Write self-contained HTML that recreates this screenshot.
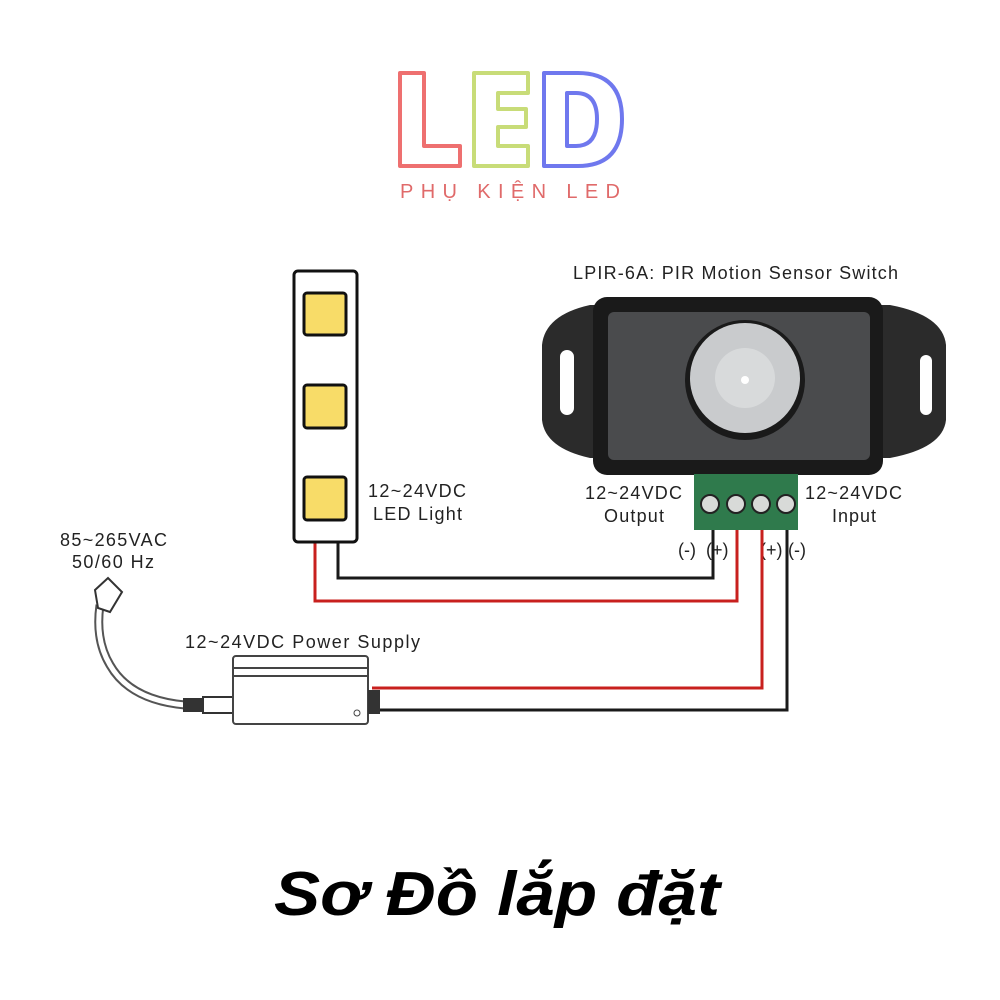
<!DOCTYPE html>
<html><head><meta charset="utf-8"><style>
body{margin:0;background:#fff;}
svg{display:block}
</style></head><body>
<svg width="1000" height="1000" viewBox="0 0 1000 1000" xmlns="http://www.w3.org/2000/svg">
<rect width="1000" height="1000" fill="#fff"/>
<!-- Logo -->
<g fill="none" stroke-width="4" stroke-linejoin="round">
<path d="M400 73 H424 V146 H460 V166 H400 Z" stroke="#ee7070"/>
<path d="M474 73 H528 V93 H498 V109 H526 V127 H498 V146 H528 V166 H474 Z" stroke="#c8dc78"/>
<path d="M544 73 H578 Q622 73 622 119 Q622 166 578 166 H544 Z M567 93 V146 H576 Q597 146 597 119 Q597 93 576 93 Z" stroke="#6f78ee"/>
</g>
<text x="400" y="198" textLength="220" lengthAdjust="spacing" font-family="Liberation Sans, sans-serif" font-size="20" fill="#e06a6a">PHỤ KIỆN LED</text>

<g font-family="Liberation Sans, sans-serif" font-size="18" fill="#222">
<text x="573" y="279" textLength="325">LPIR-6A: PIR Motion Sensor Switch</text>
<text x="368" y="497" textLength="98">12~24VDC</text>
<text x="373" y="520" textLength="89">LED Light</text>
<text x="585" y="499" textLength="97">12~24VDC</text>
<text x="604" y="522" textLength="60">Output</text>
<text x="805" y="499" textLength="97">12~24VDC</text>
<text x="832" y="522" textLength="44">Input</text>
<text x="60" y="546" textLength="107">85~265VAC</text>
<text x="72" y="568" textLength="82">50/60 Hz</text>
<text x="185" y="648" textLength="235">12~24VDC Power Supply</text>
<text x="678" y="556">(-)</text><text x="706" y="556">(+)</text>
<text x="760" y="556">(+)</text><text x="788" y="556">(-)</text>
</g>

<!-- wires -->
<g fill="none" stroke-width="3">
<polyline points="315,542 315,601 737,601 737,530" stroke="#c8201e"/>
<polyline points="338,542 338,578 713,578 713,530" stroke="#1a1a1a"/>
<polyline points="762,530 762,688 372,688" stroke="#c8201e"/>
<polyline points="787,530 787,710 372,710" stroke="#1a1a1a"/>
</g>

<!-- LED strip -->
<rect x="294" y="271" width="63" height="271" rx="4" fill="#fff" stroke="#111" stroke-width="3"/>
<g fill="#f8dc68" stroke="#111" stroke-width="3">
<rect x="304" y="293" width="42" height="42" rx="3"/>
<rect x="304" y="385" width="42" height="43" rx="3"/>
<rect x="304" y="477" width="42" height="43" rx="3"/>
</g>

<!-- sensor -->
<path d="M590 305 Q545 315 542 345 V420 Q545 448 590 458 H890 Q943 448 946 420 V345 Q943 315 890 305 Z" fill="#2b2b2b"/>
<rect x="560" y="350" width="14" height="65" rx="7" fill="#fff"/>
<rect x="920" y="355" width="12" height="60" rx="6" fill="#fff"/>
<rect x="593" y="297" width="290" height="178" rx="14" fill="#1a1a1a"/>
<rect x="608" y="312" width="262" height="148" rx="6" fill="#4a4b4d"/>
<circle cx="745" cy="380" r="60" fill="#1a1a1a"/>
<circle cx="745" cy="378" r="55" fill="#c9cbcd"/>
<circle cx="745" cy="378" r="30" fill="#d8dadb"/>
<circle cx="745" cy="380" r="4" fill="#fff"/>
<!-- terminal -->
<rect x="694" y="474" width="104" height="56" fill="#2f7a4c"/>
<g fill="#d8dad8" stroke="#222" stroke-width="2">
<circle cx="710" cy="504" r="9"/><circle cx="736" cy="504" r="9"/>
<circle cx="761" cy="504" r="9"/><circle cx="786" cy="504" r="9"/>
</g>

<!-- power supply -->
<path d="M100 605 Q95 640 110 665 Q130 700 185 705" fill="none" stroke="#555" stroke-width="9"/>
<path d="M100 605 Q95 640 110 665 Q130 700 185 705" fill="none" stroke="#fff" stroke-width="5"/>
<path d="M95 590 L108 578 L122 592 L110 612 L98 608 Z" fill="#fff" stroke="#333" stroke-width="2"/>
<rect x="183" y="698" width="20" height="14" fill="#333"/>
<rect x="203" y="697" width="30" height="16" fill="#fff" stroke="#333" stroke-width="2"/>
<rect x="233" y="656" width="135" height="68" rx="3" fill="#fff" stroke="#444" stroke-width="2"/>
<line x1="233" y1="668" x2="368" y2="668" stroke="#444" stroke-width="2"/>
<line x1="233" y1="676" x2="368" y2="676" stroke="#444" stroke-width="2"/>
<circle cx="357" cy="713" r="3" fill="none" stroke="#444"/>
<rect x="368" y="690" width="12" height="24" fill="#333"/>

<text x="274" y="915" textLength="446" lengthAdjust="spacingAndGlyphs" font-family="Liberation Sans, sans-serif" font-size="62" font-weight="bold" font-style="italic" fill="#000">Sơ Đồ lắp đặt</text>
</svg>
</body></html>
